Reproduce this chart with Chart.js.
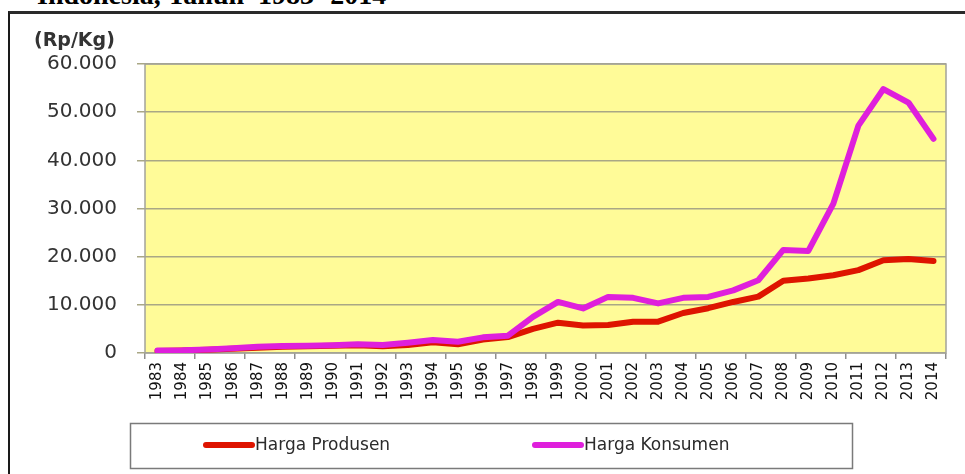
<!DOCTYPE html>
<html>
<head>
<meta charset="utf-8">
<title>Harga Produsen dan Konsumen</title>
<script src="https://cdn.jsdelivr.net/npm/chart.js@4.4.1/dist/chart.umd.min.js"></script>
<style>
    html, body { margin: 0; padding: 0; background: #fff; overflow: hidden; }
    .page { position: relative; width: 965px; height: 474px; overflow: hidden; }
    .title {
        position: absolute; left: 37px; top: -19px; white-space: pre;
        font: bold 28px 'Liberation Serif', serif; line-height: 28px; color: #000;
    }
    .frame {
        position: absolute; left: 8px; top: 11px; width: 2000px; height: 1000px;
        border-left: 2px solid #1a1a1a; border-top: 3px solid #2a2a2a;
    }
    canvas { position: absolute; left: 0; top: 0; }
</style>
</head>
<body>
<div class="page">
    <div class="title">Indonesia, Tahun  1983- 2014</div>
    <div class="frame"></div>
    <canvas id="price-chart" width="965" height="474"></canvas>
</div>
<script>
const years = ['1983', '1984', '1985', '1986', '1987', '1988', '1989', '1990', '1991', '1992', '1993',
    '1994', '1995', '1996', '1997', '1998', '1999', '2000', '2001', '2002', '2003', '2004', '2005',
    '2006', '2007', '2008', '2009', '2010', '2011', '2012', '2013', '2014'];

const hargaProdusen = [400, 500, 700, 900, 1100, 1300, 1400, 1500, 1600, 1400, 1650,
    2250, 1800, 2800, 3300, 5000, 6300, 5700, 5800, 6500, 6500, 8300, 9300,
    10600, 11700, 15000, 15450, 16150, 17200, 19250, 19500, 19100];

const hargaKonsumen = [500, 550, 750, 1000, 1300, 1450, 1500, 1600, 1800, 1650, 2150,
    2700, 2350, 3250, 3600, 7500, 10600, 9250, 11650, 11450, 10300, 11450, 11650,
    13000, 15100, 21400, 21200, 31000, 47200, 54800, 52000, 44450];

const yTicks = [0, 10000, 20000, 30000, 40000, 50000, 60000];
const unitLabel = '(Rp/Kg)';

const FONT = "'DejaVu Sans', Verdana, sans-serif";
const gridColor = '#a9a785';

// yellow plot background + grey border
const plotArea = {
    id: 'plotArea',
    beforeDraw(chart) {
        const { ctx, chartArea: a } = chart;
        ctx.save();
        ctx.fillStyle = '#fffb98';
        ctx.fillRect(a.left, a.top, a.right - a.left, a.bottom - a.top);
        ctx.restore();
    },
    beforeDatasetsDraw(chart) {
        const { ctx, chartArea: a } = chart;
        ctx.save();
        ctx.strokeStyle = '#a3a39a';
        ctx.lineWidth = 1.5;
        ctx.strokeRect(a.left, a.top, a.right - a.left, a.bottom - a.top);
        ctx.restore();
    },
    afterDraw(chart) {
        const { ctx } = chart;
        ctx.save();
        ctx.font = 'bold 19px ' + FONT;
        ctx.fillStyle = '#333';
        ctx.textBaseline = 'middle';
        ctx.fillText(unitLabel, 34, 41);
        ctx.restore();
    },
};

// boxed legend under the chart
const boxLegend = {
    id: 'boxLegend',
    afterDraw(chart) {
        const { ctx } = chart;
        const itemX = [203, 532];
        const cy = 445;
        ctx.save();
        ctx.strokeStyle = '#7a7a7a';
        ctx.lineWidth = 1.5;
        ctx.strokeRect(130.5, 423.5, 722, 45);
        ctx.font = '17px ' + FONT;
        ctx.textBaseline = 'middle';
        chart.data.datasets.forEach((ds, i) => {
            const x = itemX[i];
            ctx.strokeStyle = ds.borderColor;
            ctx.lineWidth = 6;
            ctx.lineCap = 'round';
            ctx.beginPath();
            ctx.moveTo(x + 3, cy);
            ctx.lineTo(x + 49, cy);
            ctx.stroke();
            ctx.fillStyle = '#2b2b2b';
            ctx.fillText(ds.label, x + 52, cy + 1);
        });
        ctx.restore();
    },
};

const config = {
    type: 'line',
    data: {
        labels: years,
        datasets: [
            {
                label: 'Harga Produsen',
                data: hargaProdusen,
                borderColor: '#de1400',
                borderWidth: 6,
                order: 1,
            },
            {
                label: 'Harga Konsumen',
                data: hargaKonsumen,
                borderColor: '#df1fdc',
                borderWidth: 6,
                order: 0,
            },
        ],
    },
    options: {
        responsive: false,
        animation: false,
        devicePixelRatio: 1,
        layout: { padding: { top: 64, right: 19, left: 0, bottom: 0 } },
        elements: {
            point: { radius: 0 },
            line: { tension: 0, borderCapStyle: 'round', borderJoinStyle: 'round', fill: false },
        },
        plugins: {
            legend: { display: false },
            tooltip: { enabled: false },
            title: { display: false },
        },
        scales: {
            x: {
                offset: true,
                border: { display: false },
                grid: {
                    offset: true,
                    drawOnChartArea: false,
                    drawTicks: true,
                    tickLength: 6,
                    lineWidth: 1.5,
                    color: (c) => (c.index === undefined || c.index % 2 === 0 ? '#8f8f8f' : 'rgba(0,0,0,0)'),
                },
                ticks: {
                    autoSkip: false,
                    minRotation: 90,
                    maxRotation: 90,
                    padding: 3,
                    color: '#111',
                    font: { family: FONT, size: 15 },
                },
                afterFit: (scale) => {
                    scale.height = 121;
                },
            },
            y: {
                min: 0,
                max: 60000,
                border: { display: false },
                grid: {
                    color: gridColor,
                    lineWidth: 1.5,
                    drawTicks: true,
                    tickLength: 8,
                },
                afterBuildTicks: (scale) => {
                    scale.ticks = yTicks.map((v) => ({ value: v }));
                },
                ticks: {
                    padding: 20,
                    color: '#333',
                    font: { family: FONT, size: 20 },
                    callback: (v) => String(v).replace(/\B(?=(\d{3})+(?!\d))/g, '.'),
                },
                afterFit: (scale) => {
                    scale.width = 145;
                },
            },
        },
    },
    plugins: [plotArea, boxLegend],
};

new Chart(document.getElementById('price-chart'), config);
</script>
</body>
</html>
